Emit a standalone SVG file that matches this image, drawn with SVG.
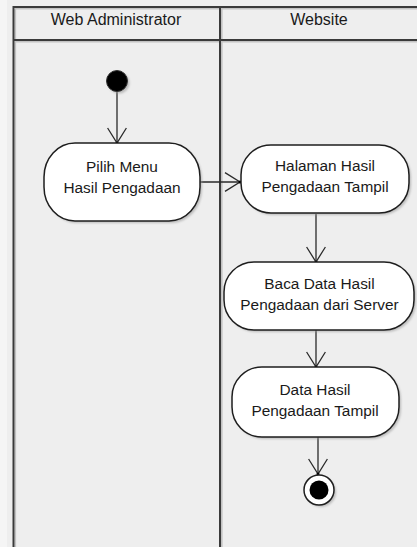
<svg xmlns="http://www.w3.org/2000/svg" width="417" height="547" viewBox="0 0 417 547">
  <style>
    .lane { stroke: #3a3a3a; stroke-width: 2; fill: none; }
    .lane-shadow { stroke: #c2c2c2; stroke-width: 1.6; fill: none; }
    .hdr { font-family: "Liberation Sans", Arial, sans-serif; font-size: 16px; fill: #1a1a1a; text-anchor: middle; }
    .lbl { font-family: "Liberation Sans", Arial, sans-serif; font-size: 15.4px; fill: #1a1a1a; text-anchor: middle; }
    .act { fill: #ffffff; stroke: #1e1e1e; stroke-width: 1.5; }
    .shadow { fill: #9a9a9a; opacity: 0.6; filter: url(#soft); }
    .edge { stroke: #2a2a2a; stroke-width: 1.3; fill: none; marker-end: url(#open); }
  </style>
  <defs>
    <filter id="soft" x="-20%" y="-20%" width="140%" height="140%">
      <feGaussianBlur stdDeviation="0.8"/>
    </filter>
    <marker id="open" markerUnits="userSpaceOnUse" markerWidth="20" markerHeight="22" viewBox="-17 -11 19 22" refX="0" refY="0" orient="auto">
      <path d="M -15 -9.4 L 0 0 L -15 9.4" fill="none" stroke="#2a2a2a" stroke-width="1.3"/>
      <circle cx="0" cy="0" r="1.5" fill="#000"/>
    </marker>
  </defs>

  <!-- canvas -->
  <rect x="0" y="0" width="417" height="547" fill="#eeeeee"/>
  <rect x="0" y="0" width="7" height="547" fill="#f5f5f5"/>

  <!-- swimlane frame -->
  <g id="lanes">
    <path class="lane-shadow" d="M 15.3 9 V 547 M 15 8.8 H 417 M 15 41.8 H 417 M 221.8 9 V 547"/>
    <path class="lane" d="M 13.5 547 V 7 H 417 M 13.5 40 H 417 M 220 7 V 547"/>
    <text class="hdr" x="116" y="25">Web Administrator</text>
    <text class="hdr" x="319" y="25">Website</text>
  </g>

  <!-- connectors -->
  <g id="connectors">
    <path class="edge" d="M 117 91 V 143"/>
    <path class="edge" d="M 200 182 H 240"/>
    <path class="edge" d="M 316 214 V 262"/>
    <path class="edge" d="M 316 330 V 367"/>
    <path class="edge" d="M 318 437 V 474"/>
  </g>

  <!-- initial node -->
  <g id="start">
    <circle class="shadow" cx="119" cy="83" r="10.5"/>
    <circle cx="117" cy="81" r="10.5" fill="#000" stroke="#333" stroke-width="1"/>
  </g>

  <g id="pilih-menu">
    <rect class="shadow" x="46" y="145" width="156" height="78" rx="31" ry="34"/>
    <rect class="act" x="44" y="143" width="156" height="78" rx="31" ry="34"/>
    <text class="lbl" x="122" y="171.5">Pilih Menu</text>
    <text class="lbl" x="122" y="192.5">Hasil Pengadaan</text>
  </g>

  <g id="halaman-tampil">
    <rect class="shadow" x="243" y="147" width="168" height="68" rx="30" ry="30"/>
    <rect class="act" x="241" y="145" width="168" height="68" rx="30" ry="30"/>
    <text class="lbl" x="325" y="170.5">Halaman Hasil</text>
    <text class="lbl" x="325" y="192">Pengadaan Tampil</text>
  </g>

  <g id="baca-data">
    <rect class="shadow" x="226" y="264" width="190" height="68" rx="30" ry="30"/>
    <rect class="act" x="224" y="262" width="190" height="68" rx="30" ry="30"/>
    <text class="lbl" x="319.5" y="289">Baca Data Hasil</text>
    <text class="lbl" x="319.5" y="310">Pengadaan dari Server</text>
  </g>

  <g id="data-tampil">
    <rect class="shadow" x="234" y="369" width="167" height="70" rx="30" ry="30"/>
    <rect class="act" x="232" y="367" width="167" height="70" rx="30" ry="30"/>
    <text class="lbl" x="315" y="395">Data Hasil</text>
    <text class="lbl" x="315" y="416">Pengadaan Tampil</text>
  </g>

  <!-- final node -->
  <g id="end">
    <circle class="shadow" cx="321" cy="492" r="15"/>
    <circle cx="319" cy="490" r="15" fill="#fff" stroke="#1e1e1e" stroke-width="1.5"/>
    <circle cx="319" cy="490" r="9.5" fill="#000"/>
  </g>
</svg>
